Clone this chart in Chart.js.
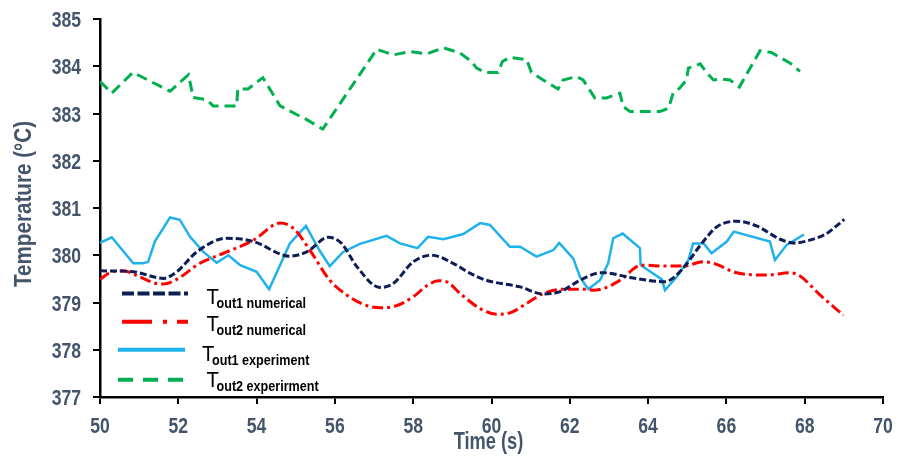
<!DOCTYPE html>
<html>
<head>
<meta charset="utf-8">
<script src="https://cdn.jsdelivr.net/npm/chart.js@4.4.1/dist/chart.umd.min.js"></script>
<style>
  html, body { margin: 0; padding: 0; background: #fff; }
  canvas { display: block; }
</style>
</head>
<body>
<canvas id="myChart" width="900" height="456"></canvas>
<script>
// time (s) and outlet temperature (°C) for each series
var num1Time = [50.00, 50.85, 51.62, 51.96, 52.47, 53.24, 53.92, 54.85, 55.28, 55.83, 56.17, 56.56, 57.15, 57.49, 58.00, 58.47, 59.02, 59.45, 59.87, 60.73, 61.32, 61.75, 62.26, 62.69, 62.86, 63.54, 64.43, 64.81, 65.41, 65.75, 66.26, 66.77, 67.37, 67.71, 68.22, 68.56, 69.01];
var num1Temp = [379.67, 379.65, 379.51, 379.65, 380.07, 380.36, 380.29, 379.98, 380.07, 380.38, 380.25, 379.76, 379.32, 379.40, 379.86, 380.00, 379.83, 379.62, 379.47, 379.33, 379.18, 379.23, 379.47, 379.62, 379.63, 379.53, 379.44, 379.65, 380.29, 380.60, 380.72, 380.62, 380.34, 380.26, 380.34, 380.46, 380.76];

var num2Time = [50.00, 50.30, 50.60, 51.02, 51.45, 51.62, 51.96, 52.55, 53.24, 53.92, 54.60, 54.94, 55.36, 55.87, 56.30, 56.73, 57.15, 57.49, 58.00, 58.34, 58.64, 58.85, 59.20, 59.71, 60.13, 60.47, 60.90, 61.32, 61.83, 62.43, 62.60, 62.94, 63.28, 63.84, 64.47, 64.90, 65.41, 65.67, 66.26, 67.03, 67.62, 67.88, 68.39, 68.99];
var num2Temp = [379.49, 379.65, 379.67, 379.54, 379.40, 379.39, 379.49, 379.83, 380.07, 380.32, 380.68, 380.57, 380.11, 379.47, 379.16, 378.96, 378.89, 378.91, 379.12, 379.35, 379.46, 379.44, 379.19, 378.87, 378.75, 378.78, 378.98, 379.19, 379.28, 379.28, 379.26, 379.32, 379.47, 379.79, 379.77, 379.77, 379.86, 379.83, 379.63, 379.58, 379.63, 379.56, 379.16, 378.73];

var exp1Time = [50.00, 50.30, 50.85, 51.11, 51.23, 51.40, 51.79, 52.04, 52.30, 52.64, 52.98, 53.28, 53.58, 54.00, 54.32, 54.85, 55.26, 55.60, 55.87, 56.21, 56.64, 57.32, 57.66, 58.11, 58.38, 58.77, 59.28, 59.71, 59.96, 60.47, 60.73, 61.15, 61.58, 61.73, 62.09, 62.26, 62.47, 62.77, 62.98, 63.11, 63.35, 63.79, 63.81, 64.35, 64.43, 64.73, 65.03, 65.15, 65.42, 65.62, 66.01, 66.19, 67.11, 67.24, 67.54, 67.98];
var exp1Temp = [380.26, 380.38, 379.83, 379.83, 379.86, 380.29, 380.80, 380.75, 380.39, 380.07, 379.84, 380.00, 379.79, 379.65, 379.28, 380.25, 380.62, 380.11, 379.77, 380.07, 380.24, 380.41, 380.25, 380.15, 380.39, 380.34, 380.45, 380.68, 380.64, 380.18, 380.18, 379.97, 380.11, 380.26, 379.93, 379.54, 379.28, 379.47, 379.83, 380.36, 380.46, 380.15, 379.79, 379.49, 379.26, 379.54, 379.90, 380.25, 380.25, 380.04, 380.29, 380.50, 380.29, 379.90, 380.22, 380.44];

var exp2Time = [50.00, 50.30, 50.84, 51.79, 52.26, 52.38, 52.73, 52.89, 53.49, 53.52, 53.78, 54.16, 54.60, 55.11, 55.28, 55.69, 57.07, 57.49, 57.92, 58.34, 58.77, 59.20, 59.49, 59.62, 59.83, 60.17, 60.28, 60.47, 60.90, 61.02, 61.32, 61.70, 61.83, 62.17, 62.34, 62.64, 62.94, 63.28, 63.36, 63.54, 64.30, 64.52, 64.64, 64.81, 64.98, 65.03, 65.33, 65.50, 65.67, 65.88, 66.09, 66.33, 66.86, 67.15, 67.62, 67.88];
var exp2Temp = [383.68, 383.43, 383.87, 383.47, 383.82, 383.34, 383.29, 383.16, 383.16, 383.52, 383.52, 383.76, 383.16, 382.94, 382.87, 382.67, 384.36, 384.24, 384.31, 384.26, 384.39, 384.28, 384.10, 383.96, 383.87, 383.87, 384.10, 384.19, 384.14, 383.87, 383.71, 383.52, 383.71, 383.78, 383.71, 383.33, 383.33, 383.43, 383.15, 383.04, 383.04, 383.11, 383.43, 383.54, 383.71, 383.96, 384.05, 383.86, 383.71, 383.73, 383.71, 383.56, 384.33, 384.29, 384.07, 383.89];

var legendLabels = ['out1 numerical', 'out2 numerical', 'out1 experiment', 'out2 experirment'];
var xTitle = 'Time (s)';
var yTitle = 'Temperature (°C)';

var axisColor = '#44546a';
var baseFamily = "'Liberation Sans', Arial, sans-serif";

function pts(xs, ys) {
    return xs.map(function (x, i) { return {x: x, y: ys[i]}; });
}

var series = [
    {data: pts(num1Time, num1Temp), color: '#0e1d55', width: 3, dash: [7, 3], tension: 0.4, legendDash: [12, 3.5]},
    {data: pts(num2Time, num2Temp), color: '#ff0000', width: 3, dash: [11, 4, 3, 4], tension: 0.4, legendDash: [30, 11, 4, 10]},
    {data: pts(exp1Time, exp1Temp), color: '#1fb2ea', width: 2.5, dash: [], tension: 0, legendDash: []},
    {data: pts(exp2Time, exp2Temp), color: '#00b050', width: 3, dash: [11, 6], tension: 0, legendDash: [15, 10]}
];

// narrow-looking text: squeeze glyphs horizontally around (x, y)
function squeezeText(ctx, text, x, y, sx, rot) {
    ctx.save();
    ctx.translate(x, y);
    if (rot) ctx.rotate(rot);
    ctx.scale(sx, 1);
    ctx.fillText(text, 0, 0);
    ctx.restore();
}

// tick labels and axis titles, placed from the chart's scales
var axisTextPlugin = {
    id: 'axisText',
    afterDraw: function (chart) {
        var ctx = chart.ctx;
        var xs = chart.scales.x, ys = chart.scales.y;
        ctx.save();
        ctx.fillStyle = axisColor;
        ctx.textBaseline = 'alphabetic';
        ctx.font = 'bold 22px ' + baseFamily;

        ctx.textAlign = 'center';
        xs.ticks.forEach(function (t) {
            squeezeText(ctx, String(t.value), xs.getPixelForValue(t.value), xs.top + 36, 0.8);
        });

        ctx.textAlign = 'right';
        ys.ticks.forEach(function (t) {
            squeezeText(ctx, String(t.value), ys.left + 81, ys.getPixelForValue(t.value) + 8, 0.8);
        });

        ctx.font = 'bold 24px ' + baseFamily;
        ctx.textAlign = 'center';
        squeezeText(ctx, xTitle, (xs.left + xs.right) / 2 - 3, xs.top + 52, 0.76);
        squeezeText(ctx, yTitle, ys.left + 31, (ys.top + ys.bottom) / 2 - 4, 0.86, -Math.PI / 2);
        ctx.restore();
    }
};

// legend drawn inside the plot with subscripted labels
var legendLineY = [293.5, 321.7, 349.7, 379.7];
var legendTextY = [303.5, 331, 360.5, 386.5];
var legendTextX = [206.5, 206.5, 202, 206.5];
var legendPlugin = {
    id: 'subLegend',
    afterDraw: function (chart) {
        var ctx = chart.ctx;
        ctx.save();
        series.forEach(function (s, i) {
            var y = legendLineY[i];
            ctx.beginPath();
            ctx.strokeStyle = s.color;
            ctx.lineWidth = 4;
            ctx.setLineDash(s.legendDash);
            ctx.moveTo(i < 2 ? 122 : 118, y);
            ctx.lineTo(i < 2 ? 188 : 185, y);
            ctx.stroke();
            ctx.setLineDash([]);
            ctx.fillStyle = '#000';
            ctx.textAlign = 'left';
            ctx.textBaseline = 'alphabetic';
            ctx.font = '22px ' + baseFamily;
            squeezeText(ctx, 'T', legendTextX[i], legendTextY[i], 0.92);
            ctx.font = 'bold 15px ' + baseFamily;
            squeezeText(ctx, legendLabels[i], legendTextX[i] + 10, legendTextY[i] + 4, 0.84);
        });
        ctx.restore();
    }
};

var ctx = document.getElementById('myChart');
var chart = new Chart(ctx, {
    type: 'line',
    data: {
        datasets: series.map(function (s, i) {
            return {
                label: 'T' + legendLabels[i],
                data: s.data,
                borderColor: s.color,
                borderWidth: s.width,
                borderDash: s.dash,
                tension: s.tension,
                cubicInterpolationMode: s.tension ? 'monotone' : 'default',
                pointRadius: 0,
                fill: false
            };
        })
    },
    options: {
        responsive: false,
        animation: false,
        layout: {padding: {top: 19, right: 17, left: 0, bottom: 0}},
        plugins: {
            legend: {display: false},
            tooltip: {enabled: false}
        },
        scales: {
            x: {
                type: 'linear',
                min: 50,
                max: 70,
                ticks: {stepSize: 2, display: false},
                grid: {drawOnChartArea: false, drawTicks: true, tickLength: 7, color: '#000', lineWidth: 2},
                border: {display: true, color: '#000', width: 2.5},
                afterFit: function (scale) { scale.height = 59; }
            },
            y: {
                min: 377,
                max: 385,
                ticks: {stepSize: 1, display: false},
                grid: {drawOnChartArea: false, drawTicks: true, tickLength: 7, color: '#000', lineWidth: 2},
                border: {display: true, color: '#000', width: 2.5},
                afterFit: function (scale) { scale.width = 100; }
            }
        }
    },
    plugins: [axisTextPlugin, legendPlugin]
});
</script>
</body>
</html>
